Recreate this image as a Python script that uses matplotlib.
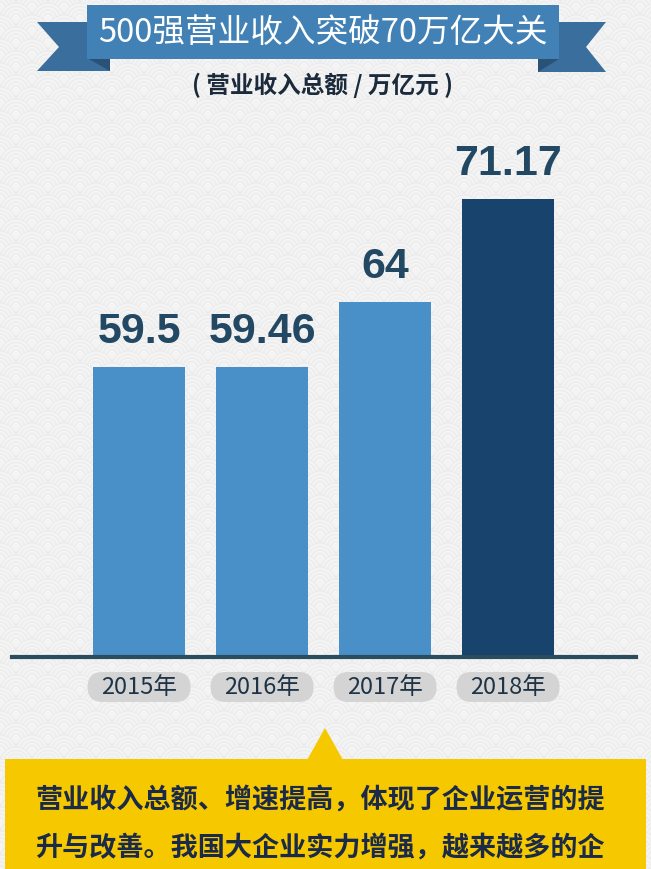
import matplotlib.pyplot as plt
from matplotlib.patches import Polygon, FancyBboxPatch, Circle
from matplotlib.collections import PatchCollection
from matplotlib.transforms import IdentityTransform

plt.rcParams['font.family'] = ['Noto Sans CJK SC', 'DejaVu Sans']

# 数据
years = ['2015年', '2016年', '2017年', '2018年']
revenue = [59.5, 59.46, 64, 71.17]
value_labels = ['59.5', '59.46', '64', '71.17']
bar_colors = ['#4a90c8', '#4a90c8', '#4a90c8', '#17436d']

title = '500强营业收入突破70万亿大关'
subtitle = '( 营业收入总额 / 万亿元 )'
note_lines = ['营业收入总额、增速提高，体现了企业运营的提',
              '升与改善。我国大企业实力增强，越来越多的企']

W, H = 651, 870
BG = '#f4f4f4'
fig = plt.figure(figsize=(W / 100, H / 100), dpi=100)
fig.patch.set_facecolor(BG)

# 背景青海波纹
r, dx, dy = 16, 32, 12
circles = []
row = 0
y = -r
while y < H + r:
    off = (row % 2) * r
    x = -dx + off
    while x < W + dx:
        for k in (1.0, 0.78, 0.56, 0.34):
            circles.append(Circle((x, H - y), r * k))
        x += dx
    y += dy
    row += 1
bgpat = PatchCollection(circles, transform=IdentityTransform(), facecolor=BG,
                        edgecolor='#ebebeb', linewidth=0.8, zorder=-5)
fig.add_artist(bgpat)


def poly(points, color, z=1):
    # 像素坐标（左上角为原点）
    pts = [(x, H - y) for x, y in points]
    fig.add_artist(Polygon(pts, closed=True, transform=IdentityTransform(),
                           fc=color, ec='none', zorder=z))


# 标题丝带
poly([(37, 23), (110, 23), (110, 72), (37, 72), (59, 48)], '#3a6e9c')
poly([(538, 23), (606, 23), (586, 48), (606, 73), (538, 73)], '#3a6e9c')
poly([(87, 59), (110, 59), (110, 72)], '#2a5276')
poly([(538, 60), (559, 60), (538, 73)], '#2a5276')
poly([(87, 6), (559, 6), (559, 60), (87, 60)], '#4181b5')
fig.text(323 / W, 1 - 33 / H, title, ha='center', va='center',
         fontsize=23.5, color='white', zorder=3)
fig.text(323 / W, 1 - 85 / H, subtitle, ha='center', va='center',
         fontsize=17, fontweight='bold', color='#1b2b3b', zorder=3)

# 柱状图
ax = fig.add_axes([12 / W, 212 / H, 624 / W, 558 / H])
ax.patch.set_visible(False)
ax.bar(range(len(years)), revenue, width=0.75, color=bar_colors, zorder=2)
ax.set_xlim(-1.033, 4.04)
ax.set_ylim(39.3, 78.13)
for s in ['top', 'left', 'right']:
    ax.spines[s].set_visible(False)
ax.spines['bottom'].set_color('#2b4c5c')
ax.spines['bottom'].set_linewidth(3)
ax.spines['bottom'].set_zorder(3)
ax.set_xticks([])
ax.set_yticks([])

for i, v in enumerate(revenue):
    ax.annotate(value_labels[i], (i, v), xytext=(0, 18), textcoords='offset points',
                ha='center', va='baseline', fontsize=31, fontweight='bold',
                family='Liberation Sans', color='#234863')

# 年份标签（圆角底）
for i, lab in enumerate(years):
    xd, _ = ax.transData.transform((i, revenue[i]))
    yc = H - 688
    fig.add_artist(FancyBboxPatch((xd - 51.5, yc - 15), 103, 30,
                                  boxstyle='round,pad=0,rounding_size=15',
                                  transform=IdentityTransform(),
                                  fc='#d4d4d4', ec='none', zorder=2))
    fig.text(xd / W, yc / H, lab, ha='center', va='center', fontsize=17,
             color='#1e3446', zorder=3)

# 底部黄色说明框
poly([(5, 760), (646, 760), (646, 872), (5, 872)], '#f6c800')
poly([(307, 761), (325, 729), (343, 761)], '#f6c800')
for k, line in enumerate(note_lines):
    fig.text(35 / W, 1 - (800 + 48 * k) / H, line, ha='left', va='center',
             fontsize=19.5, fontweight='bold', color='#1a2a48', zorder=3)

fig.savefig('out.png', dpi=100, facecolor=fig.get_facecolor())
